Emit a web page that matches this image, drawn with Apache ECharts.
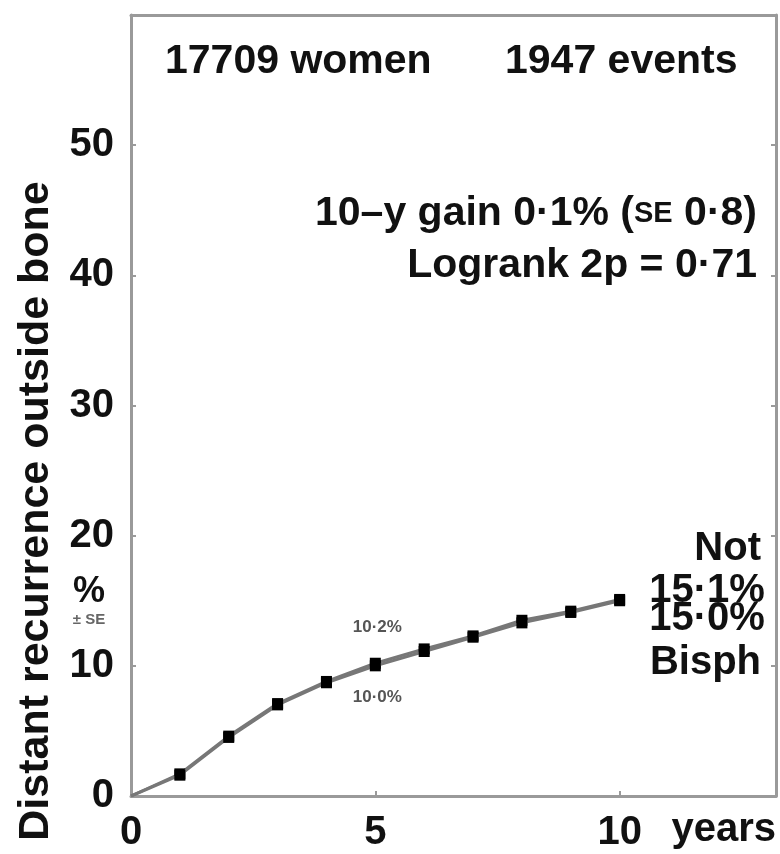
<!DOCTYPE html>
<html>
<head>
<meta charset="utf-8">
<title>Distant recurrence outside bone</title>
<script src="https://cdn.jsdelivr.net/npm/echarts@6/dist/echarts.min.js"></script>
<style>
  html, body { margin: 0; padding: 0; background: #fff; }
  #chart { width: 780px; height: 854px; }
</style>
</head>
<body>
<div id="chart"></div>
<script>
// Years of follow-up
var years = [0, 1, 2, 3, 4, 5, 6, 7, 8, 9, 10];
// Cumulative distant recurrence outside bone (%), no bisphosphonate
var notBisph = [0, 1.7, 4.6, 7.1, 8.8, 10.2, 11.3, 12.3, 13.5, 14.2, 15.1];
// Cumulative distant recurrence outside bone (%), bisphosphonate
var bisph = [0, 1.6, 4.5, 7.0, 8.7, 10.0, 11.1, 12.2, 13.3, 14.1, 15.0];
// Axis tick labels
var xTicks = [0, 5, 10];
var yTicks = [0, 10, 20, 30, 40, 50];

var FONT = '"Liberation Sans", Arial, sans-serif';
var AXIS_GREY = '#9a9a9a';
var LINE_GREY = '#777777';

function pct(v) {
  return v.toFixed(1).replace('.', '\u00b7') + '%';
}

// Build [x, y] points; labelled points get their own label settings
function buildData(values, labelAt) {
  return years.map(function (yr, i) {
    var item = { value: [yr, values[i]] };
    if (labelAt[i]) item.label = labelAt[i];
    return item;
  });
}

var smallLabel = function (offsetY) {
  return {
    show: true, position: 'inside', offset: [2, offsetY],
    formatter: function (p) { return pct(p.value[1]); },
    fontFamily: FONT, fontSize: 17, color: '#555', fontWeight: 'bold'
  };
};
var bigLabel = function (offsetY) {
  return {
    show: true, position: 'right', distance: 24, offset: [0, offsetY],
    formatter: function (p) { return pct(p.value[1]); },
    fontFamily: FONT, fontSize: 40, color: '#111', fontWeight: 'bold'
  };
};

var notLabels = {}; notLabels[5] = smallLabel(-36); notLabels[10] = bigLabel(-8);
var bisLabels = {}; bisLabels[5] = smallLabel(31); bisLabels[10] = bigLabel(18);

function markerSize(v, p) { return p.dataIndex === 0 ? 0 : 11; }

var chart = echarts.init(document.getElementById('chart'), null, { renderer: 'canvas' });

var axisLineStyle = { onZero: false, lineStyle: { color: AXIS_GREY, width: 3 } };
var tickStyle = { show: true, inside: true, length: 5, lineStyle: { color: AXIS_GREY, width: 2 } };

chart.setOption({
  backgroundColor: '#fff',
  animation: false,
  grid: { left: 131, right: 4, top: 15, bottom: 58 },
  xAxis: [{
    type: 'value', min: 0, max: 13.2, interval: 5, position: 'bottom',
    axisLine: axisLineStyle, axisTick: tickStyle, splitLine: { show: false },
    axisLabel: {
      margin: 17, fontFamily: FONT, fontSize: 40, fontWeight: 'bold', color: '#111',
      showMaxLabel: false,
      formatter: function (v) { return xTicks.indexOf(v) >= 0 ? String(v) : ''; }
    }
  }, {
    type: 'value', min: 0, max: 13.2, interval: 5, position: 'top',
    axisLine: axisLineStyle, axisTick: { show: false }, axisLabel: { show: false },
    splitLine: { show: false }
  }],
  yAxis: [{
    type: 'value', min: 0, max: 60, interval: 10, position: 'left',
    axisLine: axisLineStyle, axisTick: tickStyle, splitLine: { show: false },
    axisLabel: {
      margin: 17, fontFamily: FONT, fontSize: 40, fontWeight: 'bold', color: '#111',
      formatter: function (v) { return yTicks.indexOf(v) >= 0 ? String(v) : ''; }
    }
  }, {
    type: 'value', min: 0, max: 60, interval: 10, position: 'right',
    axisLine: axisLineStyle, axisTick: tickStyle, axisLabel: { show: false },
    splitLine: { show: false }
  }],
  series: [{
    name: 'Not', type: 'line', data: buildData(notBisph, notLabels),
    symbol: 'rect', symbolSize: markerSize, showAllSymbol: true,
    lineStyle: { color: LINE_GREY, width: 3 },
    itemStyle: { color: '#000' }, z: 3
  }, {
    name: 'Bisph', type: 'line', data: buildData(bisph, bisLabels),
    symbol: 'rect', symbolSize: markerSize, showAllSymbol: true,
    lineStyle: { color: LINE_GREY, width: 3 },
    itemStyle: { color: '#000' }, z: 4
  }],
  graphic: [
    { type: 'text', left: 165, top: 41, style: { text: '17709 women', font: 'bold 41px ' + FONT, fill: '#111' } },
    { type: 'text', left: 505, top: 41, style: { text: '1947 events', font: 'bold 41px ' + FONT, fill: '#111' } },
    {
      type: 'text', x: 757, y: 214,
      style: {
        text: '{b|10\u2013y gain 0\u00b71% (}{s|SE}{b| 0\u00b78)}',
        align: 'right', verticalAlign: 'middle',
        rich: {
          b: { font: 'bold 41px ' + FONT, fill: '#111' },
          s: { font: 'bold 29px ' + FONT, fill: '#111' }
        }
      }
    },
    { type: 'text', x: 757, y: 266, style: { text: 'Logrank 2p = 0\u00b771', font: 'bold 41px ' + FONT, fill: '#111', align: 'right', verticalAlign: 'middle' } },
    { type: 'text', x: 761, y: 549, style: { text: 'Not', font: 'bold 40px ' + FONT, fill: '#111', align: 'right', verticalAlign: 'middle' } },
    { type: 'text', x: 761, y: 663, style: { text: 'Bisph', font: 'bold 40px ' + FONT, fill: '#111', align: 'right', verticalAlign: 'middle' } },
    { type: 'text', x: 776, y: 830, style: { text: 'years', font: 'bold 40px ' + FONT, fill: '#111', align: 'right', verticalAlign: 'middle' } },
    { type: 'text', x: 89, y: 592, style: { text: '%', font: 'bold 36px ' + FONT, fill: '#111', align: 'center', verticalAlign: 'middle' } },
    { type: 'text', x: 89, y: 620, style: { text: '\u00b1 SE', font: 'bold 15px ' + FONT, fill: '#666', align: 'center', verticalAlign: 'middle' } },
    {
      type: 'text', x: 36, y: 511, rotation: Math.PI / 2,
      style: { text: 'Distant recurrence outside bone', font: 'bold 43px ' + FONT, fill: '#111', align: 'center', verticalAlign: 'middle' }
    }
  ]
});
</script>
</body>
</html>
